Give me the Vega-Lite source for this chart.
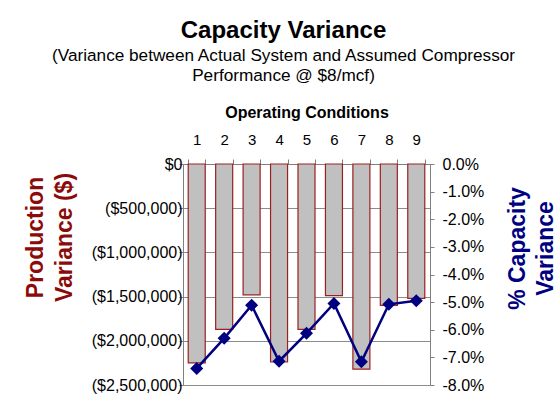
{
  "$schema": "https://vega.github.io/schema/vega-lite/v6.json",
  "width": 247,
  "height": 221,
  "autosize": {"type": "none"},
  "padding": {"left": 183, "top": 164, "right": 130, "bottom": 28},
  "background": "white",
  "config": {"font": "Liberation Sans", "view": {"stroke": null}},
  "title": {
    "text": "Capacity Variance",
    "subtitle": ["(Variance between Actual System and Assumed Compressor", "Performance @ $8/mcf)"],
    "fontSize": 24,
    "fontWeight": "bold",
    "color": "black",
    "subtitleFontSize": 17.2,
    "subtitleColor": "black",
    "subtitleLineHeight": 20,
    "subtitlePadding": 4,
    "anchor": "middle",
    "frame": "group",
    "dx": -23,
    "offset": 20
  },
  "data": {
    "values": [
      {"cond": 1, "prod": -2250000, "pct": -7.40},
      {"cond": 2, "prod": -1870000, "pct": -6.31},
      {"cond": 3, "prod": -1480000, "pct": -5.11},
      {"cond": 4, "prod": -2240000, "pct": -7.14},
      {"cond": 5, "prod": -1870000, "pct": -6.13},
      {"cond": 6, "prod": -1490000, "pct": -5.05},
      {"cond": 7, "prod": -2320000, "pct": -7.16},
      {"cond": 8, "prod": -1600000, "pct": -5.08},
      {"cond": 9, "prod": -1520000, "pct": -4.95}
    ]
  },
  "encoding": {
    "x": {
      "field": "cond",
      "type": "ordinal",
      "scale": {"paddingInner": 0.38, "paddingOuter": 0.19},
      "axis": {
        "orient": "top",
        "title": "Operating Conditions",
        "titleFontSize": 16,
        "titleFontWeight": "bold",
        "titleColor": "black",
        "titlePadding": 12,
        "labelFontSize": 15,
        "labelAngle": 0,
        "labelColor": "black",
        "labelPadding": 12,
        "domainColor": "#808080",
        "tickColor": "#808080",
        "tickBand": "extent",
        "tickSize": 5,
        "grid": false
      }
    }
  },
  "layer": [
    {
      "mark": {"type": "bar", "fill": "#C0C0C0", "stroke": "#9C2020", "strokeWidth": 1.2},
      "encoding": {
        "y": {
          "field": "prod",
          "type": "quantitative",
          "scale": {"domain": [-2500000, 0], "nice": false},
          "axis": {
            "orient": "left",
            "values": [0, -500000, -1000000, -1500000, -2000000, -2500000],
            "labelExpr": "datum.value == 0 ? '$0\u00a0\u00a0' : '($' + format(-datum.value, ',') + ')'",
            "labelFontSize": 16,
            "labelColor": "black",
            "labelPadding": -3,
            "tickSize": 4,
            "tickColor": "#808080",
            "domainColor": "#808080",
            "grid": true,
            "gridColor": "#8C8C8C",
            "gridWidth": 1,
            "title": ["Production", "Variance ($)"],
            "titleFontSize": 23,
            "titleFontWeight": "bold",
            "titleColor": "#8B0A0A",
            "titleAngle": -90,
            "titleAlign": "center",
            "titleBaseline": "alphabetic",
            "titleLineHeight": 29,
            "titleX": -141,
            "titleY": 73
          }
        }
      }
    },
    {
      "encoding": {
        "y": {
          "field": "pct",
          "type": "quantitative",
          "scale": {"domain": [-8, 0], "nice": false},
          "axis": {
            "orient": "right",
            "values": [0, -1, -2, -3, -4, -5, -6, -7, -8],
            "labelExpr": "(datum.value < 0 ? '-' : '') + format(abs(datum.value), '.1f') + '%'",
            "labelFontSize": 16,
            "labelColor": "black",
            "labelPadding": 8,
            "tickSize": 4,
            "tickColor": "#808080",
            "domainColor": "#808080",
            "grid": false,
            "title": ["% Capacity", "Variance"],
            "titleFontSize": 23,
            "titleFontWeight": "bold",
            "titleColor": "#000080",
            "titleAngle": -90,
            "titleAlign": "center",
            "titleBaseline": "alphabetic",
            "titleLineHeight": 28,
            "titleX": 94,
            "titleY": 84
          }
        }
      },
      "layer": [
        {"mark": {"type": "line", "color": "#000080", "strokeWidth": 2.5}},
        {"mark": {"type": "point", "shape": "diamond", "filled": true, "color": "#000080", "size": 170, "opacity": 1}}
      ]
    }
  ],
  "resolve": {"scale": {"y": "independent"}}
}
